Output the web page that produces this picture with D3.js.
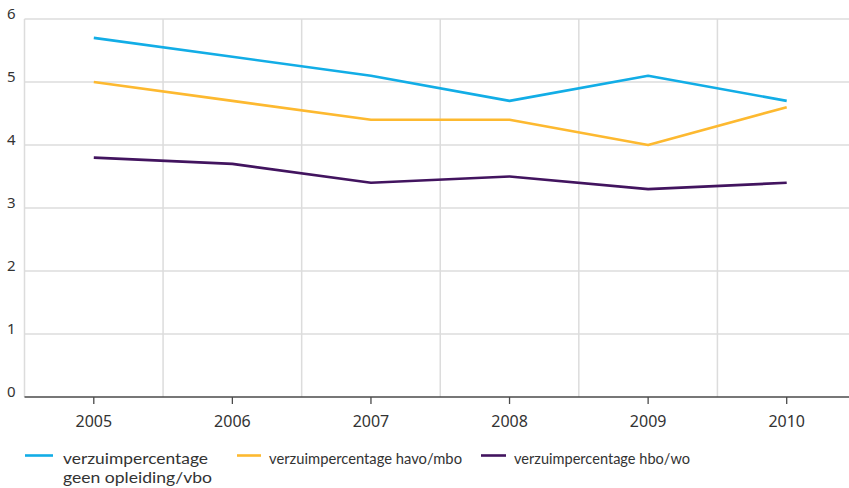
<!DOCTYPE html>
<html><head><meta charset="utf-8">
<script src="https://cdn.jsdelivr.net/npm/d3@7"></script>
<style>body{margin:0;background:#fff}svg{display:block}text{font-family:"Noto Sans",Lato,sans-serif;fill:#333}</style>
</head><body><svg id="c" width="849" height="488"></svg>
<script>
const years = ["2005","2006","2007","2008","2009","2010"];
const geen = [5.7,5.4,5.1,4.7,5.1,4.7];
const havo = [5.0,4.7,4.4,4.4,4.0,4.6];
const hbo  = [3.8,3.7,3.4,3.5,3.3,3.4];
const yTicks = [0,1,2,3,4,5,6];
const legendLines = [["verzuimpercentage","geen opleiding/vbo"],["verzuimpercentage havo/mbo"],["verzuimpercentage hbo/wo"]];
const colors = ["#12ade6","#fdb930","#42145f"];

const svg = d3.select("#c");
const x = d3.scaleBand().domain(years).range([24.5,856]);
const y = d3.scaleLinear().domain([0,6]).range([397,19]);

// horizontal grid
svg.append("g").selectAll("line").data(yTicks.filter(d=>d>0)).join("line")
  .attr("x1",24.5).attr("x2",849).attr("y1",d=>y(d)).attr("y2",d=>y(d))
  .attr("stroke","#dcdcdc").attr("stroke-width",1.5);
// vertical grid at band boundaries
svg.append("g").selectAll("line").data(years).join("line")
  .attr("x1",d=>x(d)).attr("x2",d=>x(d)).attr("y1",19).attr("y2",397)
  .attr("stroke","#dcdcdc").attr("stroke-width",1.5);

// y labels
svg.append("g").selectAll("text").data(yTicks).join("text")
  .attr("x",15.5).attr("y",d=>y(d)).attr("text-anchor","end")
  .attr("font-size",15).text(d=>d);

// x axis
const xa = svg.append("g").attr("transform","translate(0,397)")
  .call(d3.axisBottom(x).tickSize(7).tickPadding(12).tickSizeOuter(0));
xa.select(".domain").attr("stroke","#4a4a4a").attr("stroke-width",1.6).attr("d","M24.5,0H849");
xa.selectAll(".tick line").attr("stroke","#4a4a4a").attr("stroke-width",1.3);
xa.selectAll(".tick text").attr("font-size",16).attr("fill","#333").style("font-family","\"Noto Sans\",Lato,sans-serif");

// lines
const line = d3.line().x((d,i)=>x(years[i])+x.bandwidth()/2).y(d=>y(d));
[geen,havo,hbo].forEach((s,i)=>{
  svg.append("path").datum(s).attr("d",line).attr("fill","none")
    .attr("stroke",colors[i]).attr("stroke-width",2.6).attr("stroke-linejoin","round");
});

// legend
const leg = [{x:25,w:28,tx:63,tl:[145,149]},{x:237,w:24,tx:269,tl:[193]},{x:481,w:25,tx:514,tl:[176]}];
leg.forEach((l,i)=>{
  svg.append("line").attr("x1",l.x).attr("x2",l.x+l.w).attr("y1",455.5).attr("y2",455.5)
    .attr("stroke",colors[i]).attr("stroke-width",2.6);
  legendLines[i].forEach((t,j)=>{
    svg.append("text").attr("x",l.tx).attr("y",464+j*19).attr("font-size",15.8)
      .style("font-family","Lato,\"Noto Sans\",sans-serif")
      .attr("textLength",l.tl[j]).attr("lengthAdjust","spacingAndGlyphs").text(t);
  });
});
</script></body></html>
